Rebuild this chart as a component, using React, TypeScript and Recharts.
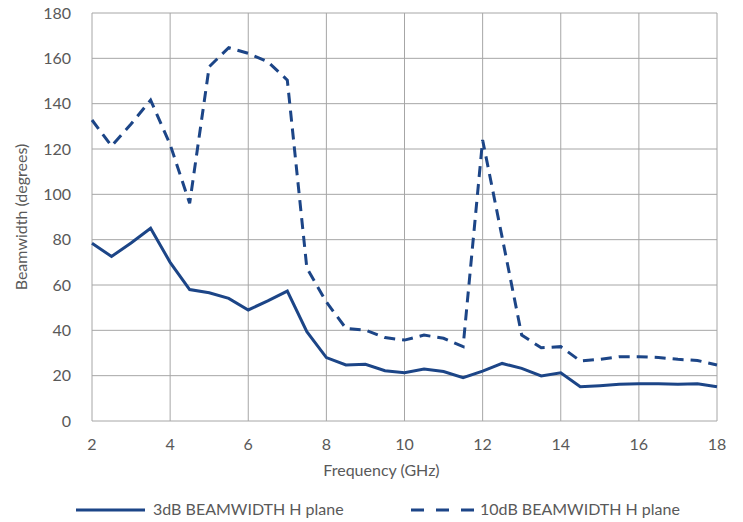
import { CartesianGrid, Line, LineChart, XAxis, YAxis } from "recharts";

const freqs = [2, 2.5, 3, 3.5, 4, 4.5, 5, 5.5, 6, 6.5, 7, 7.5, 8, 8.5, 9, 9.5, 10, 10.5, 11, 11.5, 12, 12.5, 13, 13.5, 14, 14.5, 15, 15.5, 16, 16.5, 17, 17.5, 18];
const bw3dB = [78.4, 72.6, 78.5, 85, 70, 58, 56.6, 54.1, 49, 53, 57.3, 39.4, 28, 24.7, 25, 22.2, 21.3, 22.9, 21.8, 19.1, 22, 25.4, 23.2, 19.9, 21.3, 15.1, 15.6, 16.2, 16.4, 16.4, 16.2, 16.4, 15.1];
const bw10dB = [132.8, 121.3, 131, 141.6, 122, 96, 156.3, 164.7, 162.2, 158.5, 150.4, 67.5, 52.5, 40.9, 40.1, 36.8, 35.7, 37.9, 36.5, 32.8, 124, 81, 37.9, 32.3, 32.8, 26.5, 27.2, 28.4, 28.4, 28, 27.2, 26.7, 24.7];
const xTicks = [2, 4, 6, 8, 10, 12, 14, 16, 18];
const yTicks = [0, 20, 40, 60, 80, 100, 120, 140, 160, 180];

const data = freqs.map((f, i) => ({ f, a: bw3dB[i], b: bw10dB[i] }));

const BLUE = "#1C4587";
const TEXT = "#595959";
const FONT = "Lato, 'Open Sans', sans-serif";
const FS = 16;

function LegendBox() {
  return (
    <svg width={743} height={24} style={{ position: "absolute", left: 0, top: 498, display: "block" }}>
      <line x1={76} x2={145} y1={12} y2={12} stroke={BLUE} strokeWidth={3} />
      <text x={153} y={17} fill={TEXT} fontSize={FS} fontFamily={FONT}>3dB BEAMWIDTH H plane</text>
      <line x1={411} x2={474} y1={12} y2={12} stroke={BLUE} strokeWidth={3} strokeDasharray="13 12" />
      <text x={480} y={17} fill={TEXT} fontSize={FS} fontFamily={FONT}>10dB BEAMWIDTH H plane</text>
    </svg>
  );
}

export default function App() {
  return (
    <div style={{ position: "absolute", left: 0, top: 0, width: 743, height: 522, background: "#fff" }}>
      <LineChart width={743} height={522} data={data} margin={{ top: 13, right: 26, bottom: 71, left: 32 }}>
        <CartesianGrid stroke="#a6a6a6" strokeWidth={1} verticalValues={xTicks} horizontalValues={yTicks} />
        <XAxis
          dataKey="f"
          type="number"
          domain={[2, 18]}
          ticks={xTicks}
          axisLine={false}
          tickLine={false}
          tick={{ fill: TEXT, fontSize: FS, fontFamily: FONT }}
          tickMargin={12}
          label={{ value: "Frequency (GHz)", position: "bottom", offset: 14, dx: -23, fill: TEXT, fontSize: FS, fontFamily: FONT }}
        />
        <YAxis
          type="number"
          domain={[0, 180]}
          ticks={yTicks}
          width={60}
          axisLine={false}
          tickLine={false}
          tick={{ fill: TEXT, fontSize: FS, fontFamily: FONT }}
          tickMargin={15}
          label={{ value: "Beamwidth (degrees)", angle: -90, position: "insideLeft", dx: -16, style: { textAnchor: "middle" }, fill: TEXT, fontSize: FS, fontFamily: FONT }}
        />
        <Line dataKey="a" stroke={BLUE} strokeWidth={3} dot={false} isAnimationActive={false} />
        <Line dataKey="b" stroke={BLUE} strokeWidth={3} strokeDasharray="11 7" dot={false} isAnimationActive={false} />
      </LineChart>
      <LegendBox />
    </div>
  );
}
